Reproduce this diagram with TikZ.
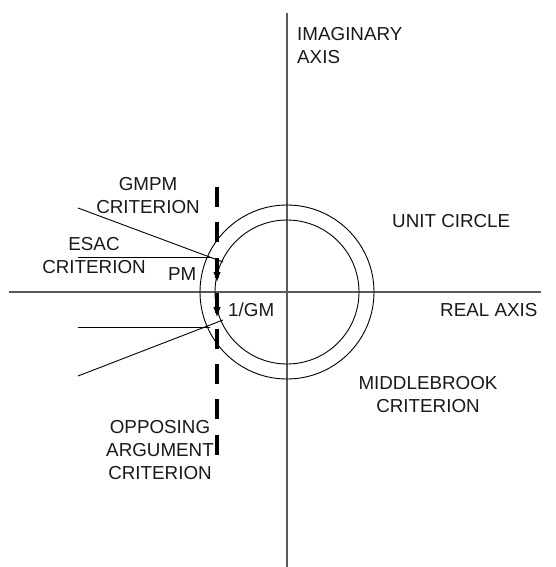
\documentclass[tikz,border=0pt]{standalone}
\usepackage{fontspec}
\setmainfont{Liberation Sans}
\usetikzlibrary{arrows.meta}

\begin{document}
\begin{tikzpicture}[
    x=1pt, y=-1pt,
    axis/.style={draw=black!65, line width=1.3pt},
    thinline/.style={draw, line width=0.9pt},
    crit/.style={draw, line width=3.8pt, dash pattern=on 20pt off 15.4pt},
    tip/.style={-{Latex[length=10pt,width=7.5pt]}, line width=1pt},
    lbl/.style={font=\fontsize{18.8}{23}\selectfont, inner sep=0pt, align=center, text=black!90}
]
\useasboundingbox (0,0) rectangle (556,567);
% axes
\coordinate (O) at (287,292);
\coordinate (re0) at (9,292);
\coordinate (re1) at (541,292);
\coordinate (im0) at (287,13);
\coordinate (im1) at (287,567);
\draw[axis] (re0) -- (re1);
\draw[axis] (im0) -- (im1);
% circles
\draw[thinline] (O) circle[radius=72pt];
\draw[thinline] (O) circle[radius=87pt];
% criterion lines
\coordinate (g0) at (78,208);
\coordinate (g1) at (223,262);
\coordinate (e0) at (78,257);
\coordinate (e1) at (212,257);
\coordinate (h0) at (78,327);
\coordinate (h1) at (210,327);
\coordinate (s0) at (78,376);
\coordinate (s1) at (223,320);
\draw[thinline] (g0) -- (g1);
\draw[thinline] (e0) -- (e1);
\draw[thinline] (h0) -- (h1);
\draw[thinline] (s0) -- (s1);
% opposing argument line
\coordinate (d0) at (217,187);
\coordinate (d1) at (217,455);
\draw[crit] (d0) -- (d1);
\coordinate (pm0) at (217,264);
\coordinate (pm1) at (217,282);
\coordinate (gm0) at (217,300);
\coordinate (gm1) at (217,317);
\draw[tip] (pm0) -- (pm1);
\draw[tip] (gm0) -- (gm1);
% labels
\node[lbl, anchor=north west, align=left] (imag) at (297,27) {IMAGINARY\\AXIS};
\node[lbl, anchor=north west] (unit) at (392,214) {UNIT CIRCLE};
\node[lbl, anchor=north west] (real) at (440,303) {REAL AXIS};
\node[lbl, anchor=north] (middle) at (428,376) {MIDDLEBROOK\\CRITERION};
\node[lbl, anchor=north] (gmpm) at (148,177) {GMPM\\CRITERION};
\node[lbl, anchor=north] (esac) at (94,237) {ESAC\\CRITERION};
\node[lbl, anchor=north west] (pm) at (168,267) {PM};
\node[lbl, anchor=north west] (gm) at (228,303) {1/GM};
\node[lbl, anchor=north] (oppo) at (160,420) {OPPOSING\\ARGUMENT\\CRITERION};
\end{tikzpicture}
\end{document}
